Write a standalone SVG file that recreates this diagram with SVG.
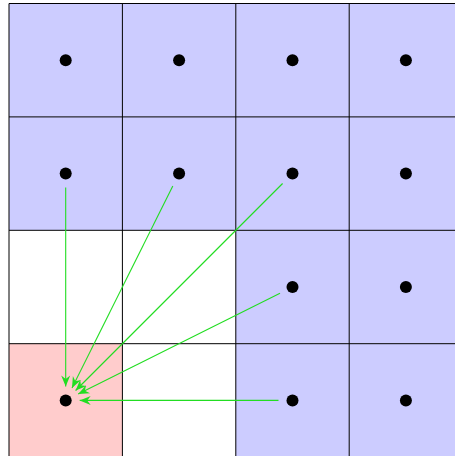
<svg xmlns="http://www.w3.org/2000/svg" width="455" height="456" viewBox="0 0 455 456">
<style>
.b{fill:#ccccff}
.w{fill:#ffffff}
.p{fill:#ffcccc}
.grid{stroke:#000;stroke-width:1;fill:none}
.dot{fill:#000}
.e{stroke:#22dd22;stroke-width:1.1;fill:none;marker-end:url(#ah)}
</style>
<defs>
<marker id="ah" markerUnits="userSpaceOnUse" viewBox="-11 -5 12 10" refX="0" refY="0" markerWidth="12" markerHeight="10" orient="auto">
<path d="M0,0 L-11,-4.5 L-7.5,0 L-11,4.5 Z" fill="#22dd22"/>
</marker>
</defs>
<rect width="455" height="456" fill="#fff"/>
<g id="cells">
<rect class="b" x="9" y="3.5" width="113.4" height="113.4"/>
<rect class="b" x="122.4" y="3.5" width="113.4" height="113.4"/>
<rect class="b" x="235.8" y="3.5" width="113.4" height="113.4"/>
<rect class="b" x="349.2" y="3.5" width="113.4" height="113.4"/>
<rect class="b" x="9" y="116.9" width="113.4" height="113.4"/>
<rect class="b" x="122.4" y="116.9" width="113.4" height="113.4"/>
<rect class="b" x="235.8" y="116.9" width="113.4" height="113.4"/>
<rect class="b" x="349.2" y="116.9" width="113.4" height="113.4"/>
<rect class="w" x="9" y="230.3" width="113.4" height="113.4"/>
<rect class="w" x="122.4" y="230.3" width="113.4" height="113.4"/>
<rect class="b" x="235.8" y="230.3" width="113.4" height="113.4"/>
<rect class="b" x="349.2" y="230.3" width="113.4" height="113.4"/>
<rect class="p" x="9" y="343.7" width="113.4" height="113.4"/>
<rect class="w" x="122.4" y="343.7" width="113.4" height="113.4"/>
<rect class="b" x="235.8" y="343.7" width="113.4" height="113.4"/>
<rect class="b" x="349.2" y="343.7" width="113.4" height="113.4"/>
</g>
<g id="grid" class="grid">
<path d="M9,3.5V460 M122.4,3.5V460 M235.8,3.5V460 M349.2,3.5V460 M9,3.5H460 M9,116.9H460 M9,230.3H460 M9,343.7H460"/>
</g>
<g id="dots">
<circle class="dot" cx="65.7" cy="60.2" r="6"/>
<circle class="dot" cx="179.1" cy="60.2" r="6"/>
<circle class="dot" cx="292.5" cy="60.2" r="6"/>
<circle class="dot" cx="405.9" cy="60.2" r="6"/>
<circle class="dot" cx="65.7" cy="173.6" r="6"/>
<circle class="dot" cx="179.1" cy="173.6" r="6"/>
<circle class="dot" cx="292.5" cy="173.6" r="6"/>
<circle class="dot" cx="405.9" cy="173.6" r="6"/>
<circle class="dot" cx="292.5" cy="287" r="6"/>
<circle class="dot" cx="405.9" cy="287" r="6"/>
<circle class="dot" cx="65.7" cy="400.4" r="6"/>
<circle class="dot" cx="292.5" cy="400.4" r="6"/>
<circle class="dot" cx="405.9" cy="400.4" r="6"/>
</g>
<g id="connectors">
<path class="e" d="M65.7,187.6 L65.7,386.4"/>
<path class="e" d="M172.8,186.1 L72,387.9"/>
<path class="e" d="M282.6,183.5 L75.6,390.5"/>
<path class="e" d="M280,293.3 L78.2,394.1"/>
<path class="e" d="M278.5,400.4 L79.7,400.4"/>
</g>
</svg>
